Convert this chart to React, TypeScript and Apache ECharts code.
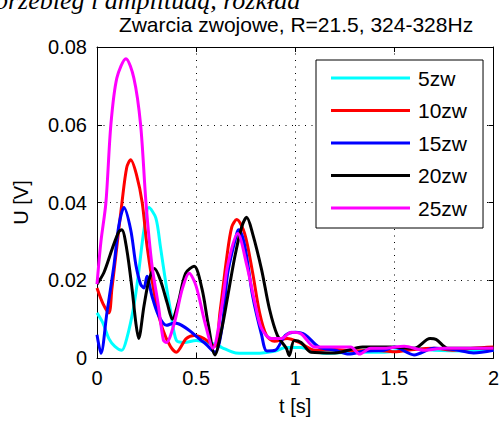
import React, { useEffect, useRef } from "react";
import * as echarts from "echarts";

// Amplitude envelopes for inter-turn faults, t [s] vs U [V]
const zw5: [number, number][] = [
  [0, 0.0116], [0.03, 0.009], [0.06, 0.005], [0.09, 0.003], [0.125, 0.002], [0.15, 0.005],
  [0.186, 0.0134], [0.21, 0.022], [0.237, 0.033], [0.262, 0.0387], [0.297, 0.036], [0.32, 0.0286],
  [0.348, 0.019], [0.373, 0.0116], [0.4, 0.0046], [0.44, 0.004], [0.5, 0.0045], [0.55, 0.004],
  [0.6, 0.0035], [0.63, 0.0027], [0.7, 0.0013], [0.8, 0.0012], [0.9, 0.0018], [0.95, 0.0027],
  [1.03, 0.0027], [1.08, 0.002], [1.15, 0.0012], [1.3, 0.0015], [1.45, 0.0015], [1.6, 0.0025],
  [1.7, 0.002], [1.85, 0.0018], [2.0, 0.002],
];

const zw10: [number, number][] = [
  [0, 0.018], [0.03, 0.014], [0.06, 0.0116], [0.075, 0.0177], [0.1, 0.0286], [0.126, 0.04],
  [0.15, 0.049], [0.17, 0.051], [0.2, 0.047], [0.228, 0.04], [0.253, 0.0286], [0.297, 0.0143],
  [0.33, 0.0076], [0.37, 0.003], [0.4, 0.0015], [0.45, 0.005], [0.49, 0.0058], [0.54, 0.005],
  [0.595, 0.003], [0.62, 0.0116], [0.655, 0.026], [0.68, 0.0337], [0.705, 0.0356], [0.745, 0.032],
  [0.785, 0.022], [0.82, 0.0117], [0.855, 0.0058], [0.895, 0.0043], [0.96, 0.005], [1.02, 0.004],
  [1.1, 0.002], [1.2, 0.0022], [1.3, 0.0018], [1.4, 0.002], [1.5, 0.0016], [1.6, 0.0022],
  [1.7, 0.0025], [1.8, 0.002], [1.9, 0.0025], [2.0, 0.0028],
];

const zw15: [number, number][] = [
  [0, 0.006], [0.02, 0.0012], [0.05, 0.0116], [0.086, 0.024], [0.11, 0.034], [0.136, 0.0387],
  [0.17, 0.033], [0.196, 0.024], [0.22, 0.019], [0.237, 0.018], [0.252, 0.021], [0.277, 0.016],
  [0.31, 0.011], [0.35, 0.0084], [0.39, 0.009], [0.54, 0.004], [0.595, 0.0015], [0.63, 0.0076],
  [0.66, 0.022], [0.705, 0.032], [0.715, 0.033], [0.745, 0.029], [0.785, 0.016], [0.83, 0.006],
  [0.857, 0.0018], [0.9, 0.002], [0.95, 0.0058], [1.0, 0.0066], [1.05, 0.006], [1.12, 0.0028],
  [1.2, 0.002], [1.27, 0.001], [1.35, 0.0018], [1.45, 0.002], [1.5, 0.0028], [1.6, 0.0008],
  [1.7, 0.0025], [1.8, 0.0022], [1.9, 0.0013], [2.0, 0.002],
];

const zw20: [number, number][] = [
  [0, 0.019], [0.035, 0.022], [0.076, 0.028], [0.11, 0.0325], [0.125, 0.033], [0.15, 0.028],
  [0.177, 0.0177], [0.196, 0.009], [0.21, 0.005], [0.237, 0.0134], [0.262, 0.02], [0.29, 0.023],
  [0.32, 0.02], [0.355, 0.014], [0.38, 0.01], [0.41, 0.0143], [0.447, 0.0218], [0.49, 0.0236],
  [0.53, 0.0177], [0.56, 0.009], [0.595, 0.0008], [0.63, 0.0076], [0.66, 0.016], [0.695, 0.026],
  [0.73, 0.0337], [0.755, 0.0362], [0.785, 0.032], [0.83, 0.0228], [0.87, 0.0126], [0.91, 0.0058],
  [0.955, 0.0025], [0.97, 0.0006], [0.995, 0.0045], [1.03, 0.004], [1.08, 0.0015], [1.2, 0.0013],
  [1.34, 0.0028], [1.48, 0.0028], [1.6, 0.0025], [1.68, 0.005], [1.71, 0.0048], [1.77, 0.0025],
  [1.9, 0.0025], [2.0, 0.0025],
];

const zw25: [number, number][] = [
  [0, 0.019], [0.02, 0.03], [0.045, 0.04], [0.07, 0.06], [0.1, 0.072], [0.146, 0.077],
  [0.186, 0.072], [0.22, 0.06], [0.247, 0.04], [0.277, 0.024], [0.31, 0.0134], [0.335, 0.0046],
  [0.35, 0.004], [0.39, 0.009], [0.43, 0.0177], [0.465, 0.0218], [0.5, 0.0185], [0.545, 0.009],
  [0.585, 0.0025], [0.63, 0.0134], [0.66, 0.024], [0.71, 0.032], [0.755, 0.024], [0.8, 0.0134],
  [0.83, 0.0076], [0.88, 0.005], [0.93, 0.005], [0.98, 0.0066], [1.03, 0.0062], [1.1, 0.0028],
  [1.2, 0.0028], [1.28, 0.0028], [1.325, 0.001], [1.38, 0.0025], [1.45, 0.0025], [1.55, 0.003],
  [1.65, 0.002], [1.75, 0.0025], [1.9, 0.0025], [2.0, 0.0025],
];

const seriesNames = ["5zw", "10zw", "15zw", "20zw", "25zw"];
const seriesData = [zw5, zw10, zw15, zw20, zw25];
const seriesColors = ["#00ffff", "#ff0000", "#0000ff", "#000000", "#ff00ff"];

const xTicks = { min: 0, max: 2, interval: 0.5 };
const yTicks = { min: 0, max: 0.08, interval: 0.02 };

const titleText = "Zwarcia zwojowe, R=21.5, 324-328Hz";
const headerText = "przebieg i amplitudą, rozkład";

const FONT = '"Liberation Sans", Arial, sans-serif';

export default function App() {
  const ref = useRef<HTMLDivElement>(null);

  useEffect(() => {
    if (!ref.current) return;
    const chart = echarts.init(ref.current, undefined, { renderer: "svg" });

    const tickStyle = { show: true, inside: true, length: 5, lineStyle: { color: "#000", width: 1 } };
    const gridLine = { show: true, lineStyle: { color: "#000", width: 1, type: [1, 5.5] as number[] } };

    chart.setOption({
      animation: false,
      backgroundColor: "#fff",
      color: seriesColors,
      textStyle: { fontFamily: FONT },
      title: {
        text: titleText,
        left: 291,
        textAlign: "center",
        top: 9,
        textStyle: { fontFamily: FONT, fontSize: 21, fontWeight: "normal", color: "#000" },
      },
      graphic: [
        {
          type: "text",
          x: -5,
          y: 13,
          style: {
            text: headerText,
            font: 'italic 26px "Liberation Serif", serif',
            fill: "#000",
            verticalAlign: "bottom",
          },
        },
      ],
      grid: { left: 97, right: 8, top: 47, bottom: 58, containLabel: false },
      legend: {
        orient: "vertical",
        left: 316,
        top: 60,
        data: seriesNames,
        icon: "rect",
        itemWidth: 79,
        itemHeight: 3,
        itemGap: 11.5,
        padding: [7.5, 16, 9.5, 15],
        backgroundColor: "#fff",
        borderColor: "#000",
        borderWidth: 1,
        borderRadius: 0,
        textStyle: { fontFamily: FONT, fontSize: 21, lineHeight: 21, color: "#000", padding: [0, 0, 0, 3] },
        selectedMode: false,
      },
      xAxis: [
        {
          type: "value",
          ...xTicks,
          name: "t [s]",
          nameLocation: "middle",
          nameGap: 38,
          nameTextStyle: { fontFamily: FONT, fontSize: 20, color: "#000" },
          axisLine: { show: true, lineStyle: { color: "#000", width: 1 } },
          axisTick: tickStyle,
          axisLabel: {
            fontFamily: FONT,
            fontSize: 20,
            color: "#000",
            margin: 10,
            formatter: (v: number) => String(v),
          },
          splitLine: gridLine,
        },
        {
          type: "value",
          position: "top",
          ...xTicks,
          axisLine: { show: true, onZero: false, lineStyle: { color: "#000", width: 1 } },
          axisTick: tickStyle,
          axisLabel: { show: false },
          splitLine: { show: false },
        },
      ],
      yAxis: [
        {
          type: "value",
          ...yTicks,
          name: "U [V]",
          nameLocation: "middle",
          nameGap: 66,
          nameRotate: 90,
          nameTextStyle: { fontFamily: FONT, fontSize: 20, color: "#000" },
          axisLine: { show: true, lineStyle: { color: "#000", width: 1 } },
          axisTick: tickStyle,
          axisLabel: {
            fontFamily: FONT,
            fontSize: 20,
            color: "#000",
            margin: 10,
            formatter: (v: number) => (v === 0 ? "0" : v.toFixed(2)),
          },
          splitLine: gridLine,
        },
        {
          type: "value",
          position: "right",
          ...yTicks,
          axisLine: { show: true, onZero: false, lineStyle: { color: "#000", width: 1 } },
          axisTick: tickStyle,
          axisLabel: { show: false },
          splitLine: { show: false },
        },
      ],
      series: seriesNames.map((name, i) => ({
        name,
        type: "line",
        xAxisIndex: 0,
        yAxisIndex: 0,
        data: seriesData[i],
        showSymbol: false,
        symbol: "none",
        smooth: 0.3,
        lineStyle: { width: 3, color: seriesColors[i] },
        itemStyle: { color: seriesColors[i] },
        clip: true,
      })),
    });

    return () => chart.dispose();
  }, []);

  return (
    <div
      ref={ref}
      style={{ position: "fixed", left: 0, top: 0, width: 502, height: 421, background: "#fff" }}
    />
  );
}
